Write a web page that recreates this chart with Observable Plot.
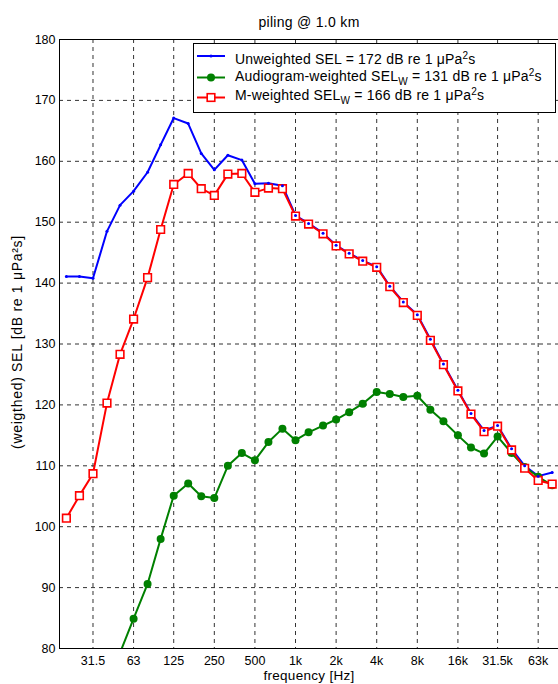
<!DOCTYPE html>
<html><head><meta charset="utf-8">
<script src="https://cdn.jsdelivr.net/npm/d3@7"></script>
<script src="https://cdn.jsdelivr.net/npm/@observablehq/plot@0.6"></script>
<style>html,body{margin:0;padding:0;background:#fff} #chart svg{display:block}</style>
</head><body><div id="chart"></div>
<script>
// third-octave band centre frequencies (Hz)
const bandFreqs = [20,25,31.5,40,50,63,80,100,125,160,200,250,315,400,500,630,800,
  1000,1250,1600,2000,2500,3150,4000,5000,6300,8000,10000,12500,16000,20000,25000,31500,40000,50000,63000,80000];

const unweighted = [141.1,141.1,140.8,148.5,152.8,155.1,158.2,162.7,167.1,166.2,161.3,158.6,161.0,160.2,156.3,156.4,156.0,
  151.1,149.8,148.2,146.2,144.9,143.7,142.7,139.5,136.9,134.8,130.8,126.7,122.4,118.6,115.8,116.6,112.8,110.0,108.3,108.9];

const audiogramWeighted = [null,null,null,null,79.3,84.9,90.6,98.0,105.1,107.1,105.0,104.7,110.0,112.1,110.9,113.9,116.1,
  114.2,115.5,116.6,117.6,118.8,120.2,122.1,121.8,121.3,121.5,119.2,117.3,115.0,113.0,112.0,114.8,112.1,109.8,108.2,106.8];

const mWeighted = [101.4,105.1,108.7,120.3,128.3,134.1,140.9,148.8,156.2,158.0,155.5,154.4,157.9,158.0,154.9,155.6,155.5,
  151.0,149.7,148.1,146.1,144.8,143.6,142.6,139.4,136.8,134.7,130.6,126.6,122.3,118.5,115.6,116.5,112.6,109.6,107.6,107.0];

const tickFreqs = [31.5,63,125,250,500,1000,2000,4000,8000,16000,31500,63000];
const tickLabels = ["31.5","63","125","250","500","1k","2k","4k","8k","16k","31.5k","63k"];
const yTicks = [80,90,100,110,120,130,140,150,160,170,180];

const seriesNames = ["Unweighted SEL = 172 dB re 1 μPa", "Audiogram-weighted SEL", "M-weighted SEL"];
const titleText = "piling @ 1.0 km";
const xLabel = "frequency [Hz]";
const yLabel = "(weigthed) SEL [dB re 1 μPa²s]";

const rows = vals => bandFreqs.map((f, i) => ({f, v: vals[i]})).filter(d => d.v != null);
const U = rows(unweighted), A = rows(audiogramWeighted), M = rows(mWeighted);
const T = tickFreqs.map((f, i) => ({f, label: tickLabels[i]}));

const font = "'Liberation Sans', Arial, Helvetica, sans-serif";
const blue = "#0000ff", green = "#008000", red = "#ff0000";
const gridStyle = {stroke: "#333", strokeOpacity: 1, strokeWidth: 1, strokeDasharray: "4,4"};

const plot = Plot.plot({
  width: 558, height: 684,
  marginLeft: 59, marginRight: 0, marginTop: 39, marginBottom: 36,
  style: {fontFamily: font, fontSize: "12.5px", background: "#fff", color: "#000", overflow: "visible"},
  x: {type: "log", domain: [1000 * 10 ** (-1.75), 1000 * 10 ** (1.95)], axis: null},
  y: {domain: [80, 180]},
  marks: [
    Plot.gridX(tickFreqs, gridStyle),
    Plot.gridY(yTicks, gridStyle),
    Plot.text(T, {x: "f", text: "label", frameAnchor: "bottom", lineAnchor: "top", dy: 8, fontSize: 12.5, fill: "#000"}),
    Plot.axisY(yTicks, {tickSize: 0, tickPadding: 4, label: null}),
    Plot.frame({stroke: "#000"}),
    Plot.line(U, {x: "f", y: "v", stroke: blue, strokeWidth: 2, clip: true}),
    Plot.line(A, {x: "f", y: "v", stroke: green, strokeWidth: 2, clip: true}),
    Plot.dot(A, {x: "f", y: "v", r: 4, fill: green, stroke: "none", clip: true}),
    Plot.line(M, {x: "f", y: "v", stroke: red, strokeWidth: 2, clip: true}),
    Plot.dot(M, {x: "f", y: "v", symbol: "square", r: 4.3, fill: "#fff", stroke: red, strokeWidth: 1.6, clip: true}),
    Plot.dot(U, {x: "f", y: "v", r: 1.5, fill: blue, stroke: "none", clip: true}),
    Plot.text([titleText], {frameAnchor: "top", lineAnchor: "middle", dy: -17, fontSize: 14, fill: "#000"}),
    Plot.text([xLabel], {frameAnchor: "bottom", lineAnchor: "middle", textAnchor: "middle", dy: 27, fontSize: 13.5, fill: "#000"}),
    Plot.text([yLabel], {frameAnchor: "left", textAnchor: "middle", lineAnchor: "middle", rotate: -90, dx: -42, dy: -2, fontSize: 14, fill: "#000"})
  ]
});

const svg = d3.select(plot);
// slightly wider letter spacing for the label texts, as in the reference rendering
svg.selectAll("text").filter(function () { return this.textContent === titleText || this.textContent === xLabel; })
  .attr("letter-spacing", 0.3);
svg.selectAll("text").filter(function () { return this.textContent === yLabel; })
  .attr("letter-spacing", 0.7);

// legend (inside plot area, top right)
const lg = svg.append("g").attr("font-family", font).attr("font-size", 14)
  .attr("text-anchor", "start").attr("letter-spacing", 0.2);
lg.append("rect").attr("x", 193.5).attr("y", 43.5).attr("width", 362).attr("height", 69)
  .attr("fill", "#fff").attr("stroke", "#000");
const rowsY = [56, 77.5, 97.5];
const baseY = [64, 80.5, 99.5];
const colors = [blue, green, red];
rowsY.forEach((y, i) => {
  lg.append("line").attr("x1", 197).attr("x2", 225).attr("y1", y).attr("y2", y)
    .attr("stroke", colors[i]).attr("stroke-width", 2);
});
lg.append("circle").attr("cx", 211).attr("cy", rowsY[0]).attr("r", 1.5).attr("fill", blue);
lg.append("circle").attr("cx", 211).attr("cy", rowsY[1]).attr("r", 4).attr("fill", green);
lg.append("rect").attr("x", 207.2).attr("y", rowsY[2] - 3.8).attr("width", 7.6).attr("height", 7.6)
  .attr("fill", "#fff").attr("stroke", red).attr("stroke-width", 1.6);

function addRow(y, parts) {
  const t = lg.append("text").attr("x", 235).attr("y", y).attr("fill", "#000");
  parts.forEach(([s, kind]) => {
    const ts = t.append("tspan").text(s);
    if (kind === "sup") ts.attr("font-size", 10).attr("dy", -5);
    if (kind === "sub") ts.attr("font-size", 10).attr("dy", 4);
    if (kind === "back") ts.attr("dy", 5);
    if (kind === "up") ts.attr("dy", -4);
  });
}
addRow(baseY[0], [[seriesNames[0]], ["2", "sup"], ["s", "back"]]);
addRow(baseY[1], [[seriesNames[1]], ["W", "sub"], [" = 131 dB re 1 μPa", "up"], ["2", "sup"], ["s", "back"]]);
addRow(baseY[2], [[seriesNames[2]], ["W", "sub"], [" = 166 dB re 1 μPa", "up"], ["2", "sup"], ["s", "back"]]);

document.getElementById("chart").appendChild(plot);
</script>
</body></html>
